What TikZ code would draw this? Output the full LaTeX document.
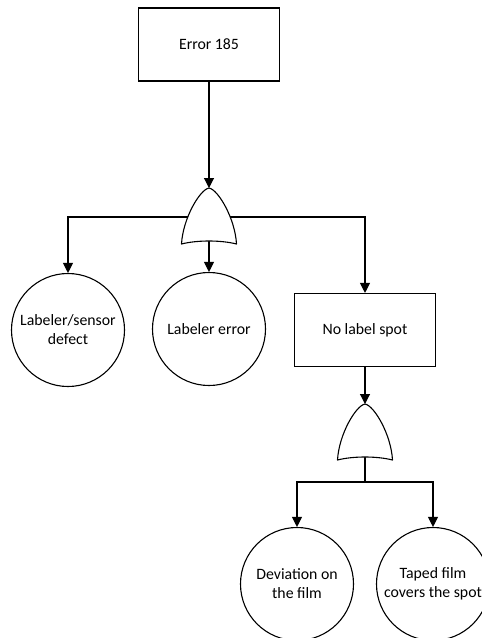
\documentclass[tikz,border=0pt]{standalone}
\usepackage{fontspec}
\setmainfont{Carlito}
\usetikzlibrary{arrows.meta}
\pgfdeclarelayer{bg}
\pgfsetlayers{bg,main}
% OR gate pointing up; tip at the origin, white fill hides wires behind it
\tikzset{
  orgate/.pic={
    \path[gate] (-27.5,56) .. controls (-26,30) and (-9,1.5) .. (0,0)
      .. controls (9,1.5) and (26,30) .. (27.5,56)
      .. controls (12,52) and (-12,52) .. cycle;
    \coordinate (-tip) at (0,0);
    \coordinate (-mid) at (0,29);
    \coordinate (-base) at (0,53);
  }
}
\begin{document}
\begin{tikzpicture}[x=1pt,y=-1pt,
  line width=1.1pt,
  font=\fontsize{15.8}{19}\selectfont,
  event/.style={draw, rectangle, minimum width=141pt, minimum height=73pt, inner sep=0pt},
  basic/.style={draw, circle, minimum size=113pt, inner sep=0pt},
  gate/.style={draw, fill=white, line join=round},
  link/.style={line width=1.1pt, -{Triangle[length=10pt,width=10pt]}},
  wire/.style={line width=1.1pt},
]
\useasboundingbox (0,0) rectangle (482,638);

% events
\node[event] (top) at (209,44.5) {Error 185};
\node[event] (nls) at (365,330) {No label spot};

% basic events
\node[basic, label={[align=center]center:Labeler/sensor\\defect}] (c1) at (68,330) {};
\node[basic, label={[align=center]center:Labeler error}] (c2) at (209,329) {};
\node[basic, label={[align=center]center:Deviation on\\the film}] (c3) at (297,584) {};
\node[basic, label={[align=center]center:Taped film\\covers the spot}] (c4) at (433,584) {};

% gates
\pic (g1) at (209,188) {orgate};
\pic (g2) at (365,404) {orgate};
\coordinate (j2) at (365,482);

% connectors, kept under the gates
\begin{pgfonlayer}{bg}
\draw[link] (top.south) -- (g1-tip);
\draw[link] (g1-mid) -| (c1.north);
\draw[link] (g1-base) -- (c2.north);
\draw[link] (g1-mid) -| (nls.north);
\draw[link] (nls.south) -- (g2-tip);
\draw[wire] (g2-base) -- (j2);
\draw[link] (j2) -| (c3.north);
\draw[link] (j2) -| (c4.north);
\end{pgfonlayer}
\end{tikzpicture}
\end{document}
